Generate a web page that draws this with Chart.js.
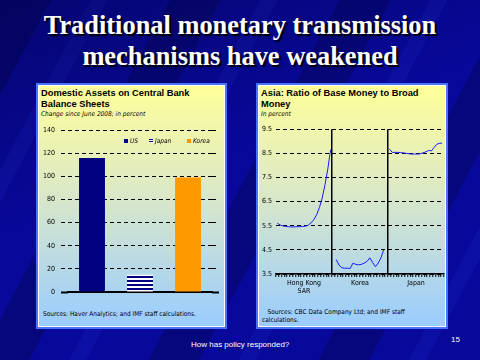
<!DOCTYPE html>
<html lang="en">
  <head>
    <meta charset="UTF-8" />
    <title>Traditional monetary transmission mechanisms have weakened</title>
    <style>
      body {
        margin: 0;
        width: 480px;
        height: 360px;
        overflow: hidden;
        position: relative;
        background-color: #08089a;
        background-image:
          linear-gradient(160deg, rgba(0,0,40,0.35) 0%, rgba(0,0,0,0) 45%),
          repeating-linear-gradient(118deg, rgba(0,0,50,0.28) 0 45px, rgba(0,0,0,0) 45px 80px, rgba(40,60,220,0.14) 80px 95px, rgba(0,0,0,0) 95px 150px);
        font-family: "DejaVu Sans Condensed", "DejaVu Sans", sans-serif;
      }
      .title {
        position: absolute; left: 0; top: 10px; width: 480px;
        text-align: center; color: #fff;
        font: bold 26.4px/31px "Liberation Serif", serif;
        text-shadow: 2px 2px 1px #000;
      }
      .panel {
        position: absolute; top: 83px; height: 246px;
        box-sizing: border-box;
        border: 2px solid #4a72ff;
        box-shadow: inset 0 0 0 1px #fff;
        background: linear-gradient(#ffff99 0%, #dbe8c8 45%, #99ccff 100%);
      }
      .ptitle { position: absolute; left: 3px; top: 3px; font: bold 9.3px/11px "Liberation Sans", sans-serif; color: #000; }
      .psub { position: absolute; left: 3px; top: 25px; font-style: italic; font-size: 6.5px; color: #000; }
      .psrc { position: absolute; font-size: 6.5px; line-height: 8px; color: #000; }
      canvas { position: absolute; }
      .legend { position: absolute; top: 137px; font-style: italic; font-size: 6.5px; color: #000; }
      .legend span.sw { position: absolute; top: 2px; width: 4px; height: 4px; }
      .legend span.tx { position: absolute; top: 0; }
      .foot { position: absolute; color: #fff; font: 8px "Liberation Sans", sans-serif; }
    </style>
  </head>
  <body>
    <div class="title">Traditional monetary transmission<br>mechanisms have weakened</div>

    <div class="panel" style="left:36px;width:191px;">
      <div class="ptitle">Domestic Assets on Central Bank<br>Balance Sheets</div>
      <div class="psub">Change since June 2008; in percent</div>
      <div class="psrc" style="left:5px;top:225px;">Sources: Haver Analytics; and IMF staff calculations.</div>
    </div>
    <div class="panel" style="left:256px;width:192px;">
      <div class="ptitle">Asia: Ratio of Base Money to Broad<br>Money</div>
      <div class="psub">In percent</div>
      <div class="psrc" style="left:4px;top:223px;">&nbsp;&nbsp;&nbsp;Sources: CBC Data Company Ltd; and IMF staff<br>calculations.</div>
    </div>

    <canvas id="assets" width="188" height="184" style="left:38px;top:120px;"></canvas>
    <div class="legend" id="assetLegend"></div>
    <canvas id="ratio" width="188" height="185" style="left:258px;top:121px;"></canvas>

    <div class="foot" style="left:191px;top:340px;">How has policy responded?</div>
    <div class="foot" style="left:451px;top:335px;">15</div>

    <script src="https://cdn.jsdelivr.net/npm/chart.js"></script>
    <script>
      // left chart: domestic assets, change since June 2008 (percent)
      const assetCountries = ['US', 'Japan', 'Korea'];
      const assetChange = [116, 15, 99];

      // right chart: base money / broad money (percent)
      const ratioSegments = [['Hong Kong', 'SAR'], 'Korea', 'Japan'];
      const hkMonths = [0.5, 1.5, 2.5, 3.5, 4.5, 5.5, 6.5, 7.5, 8.5, 9.5, 10.5, 11.5, 12.5, 13.5, 14.5, 15.5, 16.5, 17.5, 18.5, 19.5];
      const hkRatio = [5.6, 5.53, 5.49, 5.47, 5.46, 5.45, 5.45, 5.46, 5.46, 5.47, 5.48, 5.52, 5.62, 5.75, 5.95, 6.25, 6.65, 7.2, 7.85, 8.65];
      const krMonths = [21.5, 22.5, 23.5, 24.5, 25.5, 26.5, 27.5, 28.5, 29.5, 30.5, 31.5, 32.5, 33.5, 34.5, 35.5, 36.5, 37.5, 38.5];
      const krRatio = [4.1, 3.87, 3.76, 3.74, 3.74, 3.73, 3.95, 3.9, 3.88, 3.9, 3.95, 4.02, 4.17, 3.98, 3.8, 3.95, 4.18, 4.52];
      const jpMonths = [40.5, 41.5, 42.5, 43.5, 44.5, 45.5, 46.5, 47.5, 48.5, 49.5, 50.5, 51.5, 52.5, 53.5, 54.5, 55.5, 56.5, 57.5, 58.5, 59.3];
      const jpRatio = [8.68, 8.54, 8.54, 8.54, 8.53, 8.52, 8.5, 8.48, 8.47, 8.47, 8.47, 8.48, 8.52, 8.56, 8.62, 8.6, 8.75, 8.88, 8.92, 8.92];

      const NAVY = '#000080';
      const ORANGE = '#ff9900';
      const tickFont = { family: '"DejaVu Sans Condensed", "DejaVu Sans", sans-serif', size: 7 };

      // striped fill for Japan
      const pc = document.createElement('canvas');
      pc.width = 4; pc.height = 4;
      const pctx = pc.getContext('2d');
      pctx.fillStyle = '#fff'; pctx.fillRect(0, 0, 4, 4);
      pctx.fillStyle = NAVY; pctx.fillRect(0, 0, 4, 2);
      const stripes = document.getElementById('assets').getContext('2d').createPattern(pc, 'repeat');

      const assetColors = [NAVY, stripes, ORANGE];

      // gridlines run a little past the bars on both sides
      const dashOrSolid = (ctx) => (ctx.tick && ctx.tick.value === 0 ? [] : [4, 3]);
      const zeroWidth = (ctx) => (ctx.tick && ctx.tick.value === 0 ? 2 : 1);

      new Chart(document.getElementById('assets'), {
        type: 'bar',
        data: {
          labels: assetCountries,
          datasets: [{
            data: assetChange,
            backgroundColor: assetColors,
            barPercentage: 0.54,
            categoryPercentage: 1,
          }],
        },
        options: {
          responsive: false,
          animation: false,
          layout: { padding: { left: 0, right: 7, top: 8, bottom: 4 } },
          plugins: { legend: { display: false }, tooltip: { enabled: false } },
          scales: {
            x: {
              ticks: { display: false },
              grid: { display: false },
              border: { display: true, color: '#000', width: 2 },
            },
            y: {
              min: 0, max: 140,
              afterFit: (s) => { s.width = 30; },
              ticks: { stepSize: 20, color: '#000', font: tickFont, padding: 6 },
              grid: { color: '#000', tickLength: 7, tickBorderDash: dashOrSolid, tickWidth: zeroWidth },
              border: { display: false, dash: [4, 3] },
            },
            y2: {
              position: 'right',
              min: 0, max: 140,
              afterFit: (s) => { s.width = 7; },
              ticks: { stepSize: 20, display: false },
              grid: { color: '#000', drawOnChartArea: false, tickLength: 7, tickBorderDash: dashOrSolid, tickWidth: zeroWidth },
              border: { display: false },
            },
          },
        },
      });

      // legend for the bar chart
      const legend = document.getElementById('assetLegend');
      const legendX = [124, 149, 187];
      const swatchCss = [NAVY, 'repeating-linear-gradient(' + NAVY + ' 0 1px, #fff 1px 2px)', ORANGE];
      assetCountries.forEach((c, i) => {
        legend.innerHTML += `<span class="sw" style="left:${legendX[i]}px;background:${swatchCss[i]}"></span>` +
          `<span class="tx" style="left:${legendX[i] + 6}px">${c}</span>`;
      });

      const toPoints = (xs, ys) => xs.map((x, i) => ({ x: x, y: ys[i] }));
      const lineStyle = { borderColor: '#1a1aff', borderWidth: 1, pointRadius: 0, fill: false, tension: 0 };

      new Chart(document.getElementById('ratio'), {
        type: 'line',
        data: {
          datasets: [
            { label: 'Hong Kong SAR', data: toPoints(hkMonths, hkRatio), ...lineStyle },
            { label: 'Korea', data: toPoints(krMonths, krRatio), ...lineStyle },
            { label: 'Japan', data: toPoints(jpMonths, jpRatio), ...lineStyle },
          ],
        },
        options: {
          responsive: false,
          animation: false,
          layout: { padding: { left: 0, right: 2, top: 8, bottom: 0 } },
          plugins: { legend: { display: false }, tooltip: { enabled: false } },
          scales: {
            x: {
              type: 'linear',
              min: 0, max: 60,
              afterFit: (s) => { s.height = 32; },
              ticks: {
                stepSize: 1,
                autoSkip: false,
                maxRotation: 0,
                maxTicksLimit: 100,
                color: '#000',
                font: tickFont,
                padding: 2,
                callback: (v) => (v % 20 === 10 ? ratioSegments[(v - 10) / 20] : ''),
              },
              grid: {
                color: (ctx) => (ctx.tick && (ctx.tick.value === 20 || ctx.tick.value === 40) ? '#000' : 'rgba(0,0,0,0)'),
                lineWidth: 1.5,
                tickColor: '#000',
                tickLength: 3,
                tickWidth: 1,
              },
              border: { display: true, color: '#000', width: 1.5 },
            },
            y: {
              min: 3.5, max: 9.5,
              afterFit: (s) => { s.width = 18; },
              ticks: { stepSize: 1, color: '#000', font: tickFont, padding: 4, callback: (v) => v.toFixed(1) },
              grid: { color: '#000', drawTicks: false },
              border: { display: false, dash: [4, 3] },
            },
          },
        },
      });
    </script>
  </body>
</html>
